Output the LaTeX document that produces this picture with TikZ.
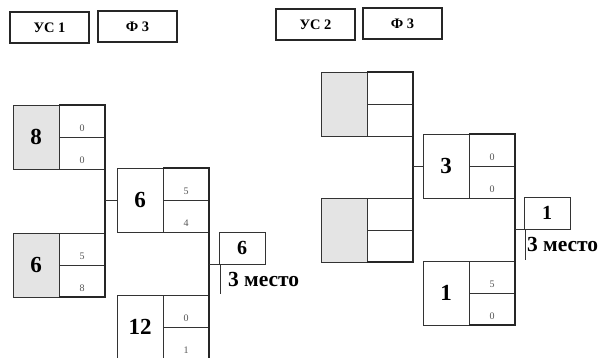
\documentclass[tikz,border=0pt]{standalone}
\usepackage{fontspec}
\setmainfont{Liberation Serif}
\definecolor{shadeg}{HTML}{E4E4E4}
\definecolor{lineg}{HTML}{333333}
\definecolor{scoreg}{HTML}{555555}
\tikzset{
  every node/.style={outer sep=0pt},
  cell/.style={draw=lineg, line width=0.8pt, minimum width=46pt, minimum height=64pt,
    inner sep=0pt, anchor=north west, font=\bfseries\fontsize{23}{23}\selectfont},
  half/.style={draw=lineg, line width=0.8pt, minimum width=46pt, minimum height=32pt,
    inner sep=0pt, anchor=north west, text=scoreg, font=\fontsize{10}{10}\selectfont},
  shaded/.style={fill=shadeg},
  bracketline/.style={draw=black!85, line width=2pt},
  conn/.style={draw=lineg, line width=0.8pt},
  hdr/.style={draw=black!85, line width=1.1pt, minimum width=79pt, minimum height=31pt,
    inner sep=0pt, anchor=north west, font=\bfseries\fontsize{14.5}{14.5}\selectfont},
  finbox/.style={draw=lineg, line width=0.8pt, minimum width=46pt, minimum height=32pt,
    inner sep=0pt, anchor=north west, font=\bfseries\fontsize{20}{20}\selectfont},
  place/.style={anchor=base west, inner sep=0pt, font=\bfseries\fontsize{21.5}{21.5}\selectfont},
}
\newcommand\lowsc[1]{\raisebox{-10pt}[0pt][0pt]{#1}}
% name, x, y, big number, score1, score2, extra style for left cell
\newcommand\matchcell[7]{%
  \node[cell,#7] (#1-l) at (#2,#3) {#4};
  \node[half] (#1-a) at (#2+46,#3) {\lowsc{#5}};
  \node[half] (#1-b) at (#1-a.south west) {\lowsc{#6}};
}
\begin{document}
\begin{tikzpicture}[x=1pt,y=-1pt]
\clip (0,0) rectangle (607,357);
\fill[white] (0,0) rectangle (607,357);

% headers
\node[hdr] (h1) at (10,12) {УС 1};
\node[hdr] (h2) at (98,11) {Ф 3};
\node[hdr] (h3) at (276,9) {УС 2};
\node[hdr] (h4) at (363,8) {Ф 3};

% ---------- left bracket ----------
\matchcell{L1}{13}{105}{8}{0}{0}{shaded}
\matchcell{L2}{13}{233}{6}{5}{8}{shaded}
\matchcell{L3}{117}{168}{6}{5}{4}{}
\matchcell{L4}{117}{295}{12}{0}{1}{}
\node[finbox] (LF) at (219,232) {6};
\coordinate (LFend) at (220,294);

\path[bracketline] (L1-a.north west) -- (L1-a.north east) -- (L2-b.south east -| L1-a.east) -- (L2-b.south west);
\path[bracketline] (L3-a.north west) -- (L3-a.north east) -- (L4-b.south east -| L3-a.east) -- (L4-b.south west);
\path[conn] (L3-l.west -| L1-a.east) -- (L3-l.west);
\path[conn] (LF.south west -| L3-a.east) -- (LF.south west);
\path[conn] (LF.south west) ++(1,0) coordinate (LFs) (LFs) -- (LFs |- LFend);
\node[place] (LP) at (228,286) {3 место};

% ---------- right bracket ----------
\matchcell{R1}{321}{72}{}{}{}{shaded}
\matchcell{R2}{321}{198}{}{}{}{shaded}
\matchcell{R3}{423}{134}{3}{0}{0}{}
\matchcell{R4}{423}{261}{1}{5}{0}{}
\node[finbox] (RF) at (524,197) {1};
\coordinate (RFend) at (525,260);

\path[bracketline] (R1-a.north west) -- (R1-a.north east) -- (R2-b.south east -| R1-a.east) -- (R2-b.south west);
\path[bracketline] (R3-a.north west) -- (R3-a.north east) -- (R4-b.south east -| R3-a.east) -- (R4-b.south west);
\path[conn] (R3-l.west -| R1-a.east) -- (R3-l.west);
\path[conn] (RF.south west -| R3-a.east) -- (RF.south west);
\path[conn] (RF.south west) ++(1,0) coordinate (RFs) (RFs) -- (RFs |- RFend);
\node[place] (RP) at (527,251) {3 место};
\end{tikzpicture}
\end{document}
